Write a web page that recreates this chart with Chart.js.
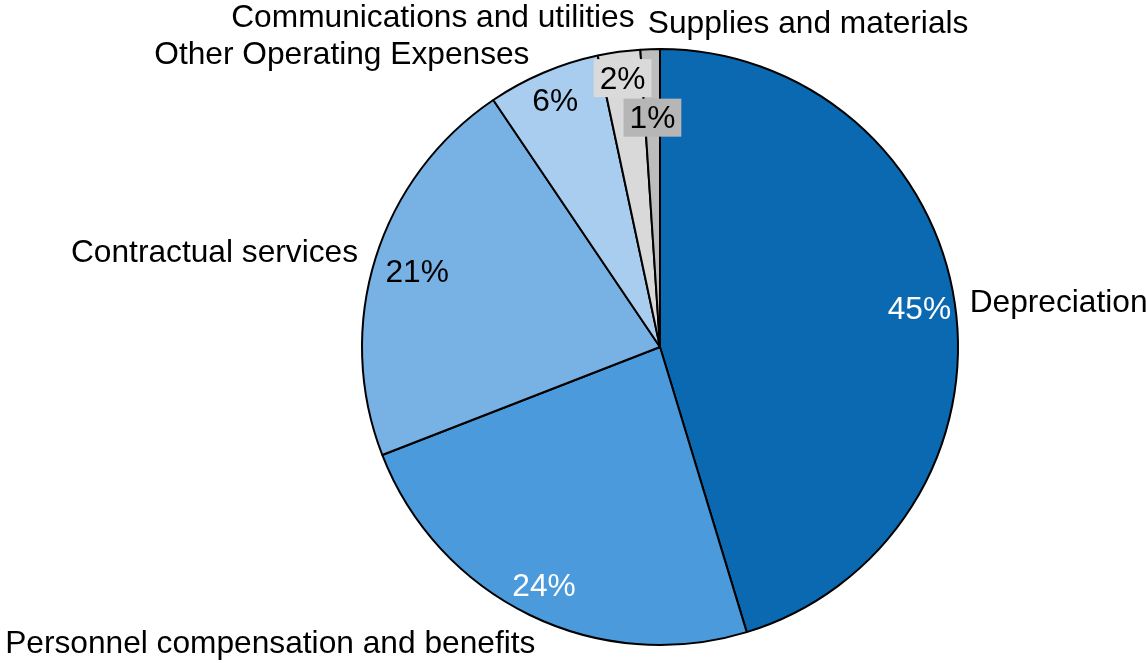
<!DOCTYPE html>
<html>
<head>
<meta charset="utf-8">
<script src="https://cdn.jsdelivr.net/npm/chart.js@4"></script>
<style>
  body { margin: 0; background: #fff; }
  canvas { display: block; }
</style>
</head>
<body>
<canvas id="pieChart" width="1146" height="663"></canvas>
<script>
// Data
const categories = ['Depreciation', 'Personnel compensation and benefits', 'Contractual services',
                    'Other Operating Expenses', 'Communications and utilities', 'Supplies and materials'];
const shares = [45.3, 23.8, 21.45, 6.1, 2.3, 1.05];

// Styles
const sliceColors = ['#0a69b1', '#4b9bdc', '#78b1e3', '#a9cdef', '#d9d9d9', '#bdbdbd'];
const pctColors = ['#fff', '#fff', '#000', '#000', '#000', '#000'];
const pctBoxes = [null, null, null, null, '#dadada', '#b6b6b6'];
const pctRadius = [0.88, 0.89, 0.854, 0.898, 0.911, 0.77];
// outer label placement: offset from arc edge point + alignment
const nameLayout = [
    { dx: 5, dy: 2, align: 'left' },
    { dx: 10, dy: 20, align: 'right' },
    { dx: -8, dy: -2, align: 'right' },
    { dx: -10, dy: -8, align: 'right' },
    { dx: 17, dy: -24, align: 'right' },
    { dx: -2, dy: -15, align: 'left' }
];
const FONT = '31.7px "Liberation Sans", Arial, sans-serif';

const labelPlugin = {
    id: 'pieLabels',
    afterDatasetsDraw(chart) {
        const ctx = chart.ctx;
        const arcs = chart.getDatasetMeta(0).data;
        ctx.save();
        ctx.font = FONT;
        ctx.textBaseline = 'middle';
        arcs.forEach((arc, i) => {
            const { x, y, startAngle, endAngle, outerRadius } = arc.getProps(['x', 'y', 'startAngle', 'endAngle', 'outerRadius'], true);
            const mid = (startAngle + endAngle) / 2;

            // percentage inside
            const r = outerRadius * pctRadius[i];
            const px = x + Math.cos(mid) * r;
            const py = y + Math.sin(mid) * r;
            const txt = Math.round(shares[i]) + '%';
            ctx.textAlign = 'center';
            if (pctBoxes[i]) {
                const w = ctx.measureText(txt).width + 12;
                ctx.fillStyle = pctBoxes[i];
                ctx.fillRect(px - w / 2, py - 19, w, 38);
            }
            ctx.fillStyle = pctColors[i];
            ctx.fillText(txt, px, py + 2);

            // category name outside
            const lay = nameLayout[i];
            const ro = outerRadius + 10;
            const nx = x + Math.cos(mid) * ro + lay.dx;
            const ny = y + Math.sin(mid) * ro + lay.dy;
            ctx.textAlign = lay.align;
            ctx.fillStyle = '#000';
            ctx.fillText(categories[i], nx, ny);
        });
        ctx.restore();
    }
};

const ctxPie = document.getElementById('pieChart').getContext('2d');
const pieChart = new Chart(ctxPie, {
    type: 'pie',
    data: {
        labels: categories,
        datasets: [{
            data: shares,
            backgroundColor: sliceColors,
            borderColor: '#000',
            borderWidth: 2
        }]
    },
    options: {
        responsive: false,
        animation: false,
        radius: 298,
        layout: { padding: { left: 200, right: 26, top: 40, bottom: 9 } },
        plugins: {
            legend: { display: false },
            tooltip: { enabled: false }
        }
    },
    plugins: [labelPlugin]
});
</script>
</body>
</html>
